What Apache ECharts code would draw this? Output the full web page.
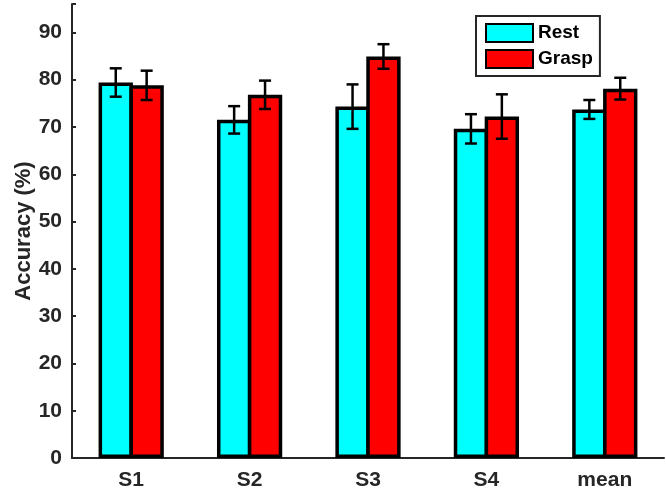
<!DOCTYPE html>
<html>
<head>
<meta charset="utf-8">
<script src="https://cdn.jsdelivr.net/npm/echarts@6/dist/echarts.min.js"></script>
<style>
  html, body { margin: 0; padding: 0; background: #fff; }
  #chart { width: 666px; height: 491px; }
</style>
</head>
<body>
<div id="chart"></div>
<script>
var categories = ['S1', 'S2', 'S3', 'S4', 'mean'];
var restMean = [79.4, 71.5, 74.3, 69.6, 73.7];
var restErr = [3.0, 2.9, 4.7, 3.1, 2.0];
var graspMean = [78.8, 76.8, 84.9, 72.2, 78.1];
var graspErr = [3.1, 3.0, 2.6, 4.7, 2.3];

var BAR_FRAC = 0.29;
var GAP = -0.1;
var FONT = '"Liberation Sans", Arial, sans-serif';

function errorSeries(means, errs, side) {
  return {
    type: 'custom',
    silent: true,
    z: 10,
    data: means.map(function (m, i) { return [i, m - errs[i], m + errs[i]]; }),
    renderItem: function (params, api) {
      var band = api.size([1, 0])[0];
      var w = band * BAR_FRAC;
      var off = side * (w + GAP * w) / 2;
      var lo = api.coord([api.value(0), api.value(1)]);
      var hi = api.coord([api.value(0), api.value(2)]);
      var x = lo[0] + off;
      var cap = 6;
      var style = { stroke: '#000', lineWidth: 2.5 };
      return {
        type: 'group',
        children: [
          { type: 'line', shape: { x1: x, y1: lo[1], x2: x, y2: hi[1] }, style: style },
          { type: 'line', shape: { x1: x - cap, y1: lo[1], x2: x + cap, y2: lo[1] }, style: style },
          { type: 'line', shape: { x1: x - cap, y1: hi[1], x2: x + cap, y2: hi[1] }, style: style }
        ]
      };
    }
  };
}

var chart = echarts.init(document.getElementById('chart'));
chart.setOption({
  animation: false,
  grid: { left: 72, right: 2, top: 4, bottom: 33 },
  legend: {
    data: ['Rest', 'Grasp'],
    orient: 'vertical',
    icon: 'rect',
    left: 476,
    top: 16,
    padding: [7, 7, 7, 9],
    itemWidth: 47,
    itemHeight: 18,
    itemGap: 6,
    borderColor: '#262626',
    borderWidth: 2,
    backgroundColor: '#fff',
    textStyle: { fontFamily: FONT, fontWeight: 'bold', fontSize: 19, color: '#000' }
  },
  xAxis: {
    type: 'category',
    data: categories,
    axisLine: { lineStyle: { color: '#262626', width: 2 } },
    axisTick: { show: false },
    axisLabel: { fontFamily: FONT, fontWeight: 'bold', fontSize: 21, color: '#262626', margin: 12 }
  },
  yAxis: {
    type: 'value',
    min: 0,
    max: 96,
    interval: 10,
    name: 'Accuracy (%)',
    nameLocation: 'middle',
    nameMoveOverlap: false,
    nameGap: 37,
    nameTextStyle: { fontFamily: FONT, fontWeight: 'bold', fontSize: 22, color: '#262626' },
    axisLine: { show: true, lineStyle: { color: '#262626', width: 2 } },
    axisTick: { show: true, inside: true, length: 4, lineStyle: { color: '#262626', width: 2 } },
    splitLine: { show: false },
    axisLabel: {
      fontFamily: FONT, fontWeight: 'bold', fontSize: 21, color: '#262626', margin: 10,
      formatter: function (v) { return v > 90 ? '' : v; }
    }
  },
  series: [
    {
      name: 'Rest', type: 'bar', data: restMean,
      barWidth: (BAR_FRAC * 100) + '%', barGap: (GAP * 100) + '%',
      itemStyle: { color: '#00ffff', borderColor: '#000', borderWidth: 3.5 }
    },
    {
      name: 'Grasp', type: 'bar', data: graspMean,
      barWidth: (BAR_FRAC * 100) + '%', barGap: (GAP * 100) + '%',
      itemStyle: { color: '#ff0000', borderColor: '#000', borderWidth: 3.5 }
    },
    errorSeries(restMean, restErr, -1),
    errorSeries(graspMean, graspErr, 1)
  ]
});
</script>
</body>
</html>
